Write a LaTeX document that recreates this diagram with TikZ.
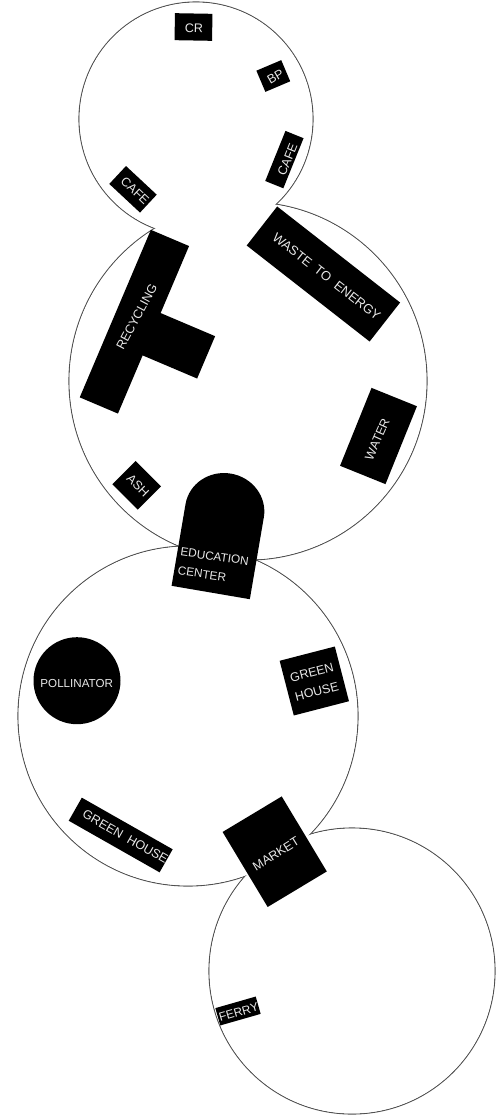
\documentclass[tikz,border=0pt]{standalone}
\usepackage{fontspec}
\setmainfont{Liberation Sans}
\definecolor{ringgray}{RGB}{80,80,80}
\definecolor{labelgray}{RGB}{232,232,232}
\usetikzlibrary{positioning}

\begin{document}
\begin{tikzpicture}[x=1pt,y=-1pt,
  bldg/.style={fill=black,inner sep=0pt},
  bldglabel/.style={text=labelgray,inner sep=0pt,align=center,font=\fontsize{12.5}{19.5}\selectfont}]
  \useasboundingbox (0,0) rectangle (499,1119);
  % site outline: rings first, then wipe the insides
  \foreach \cx/\cy/\cr in {196/119/117,248/381/179,188/716/170,352/971/143}
    \draw[ringgray,line width=1.1pt] (\cx,\cy) circle[radius=\cr pt];
  \foreach \cx/\cy/\cr in {196/119/117,248/381/179,188/716/170,352/971/143}
    \fill[white] (\cx,\cy) circle[radius=\cr pt-0.55pt];
  % top ring
  \node[bldg,minimum width=37.5pt,minimum height=27pt,rotate=-1] (cr) at (193.5,27) {};
  \node[bldglabel,rotate=-1] (crlabel) at (194,28.5) {CR};
  \node[bldg,minimum width=27pt,minimum height=23pt,rotate=23] (bp) at (273.3,76) {};
  \node[bldglabel,rotate=30] (bplabel) at (275.5,77) {BP};
  \node[bldg,minimum width=54pt,minimum height=19.5pt,rotate=68] (caferight) at (284.4,159.6) {};
  \node[bldglabel,rotate=68] (caferightlabel) at (287.5,159.3) {CAFE};
  \node[bldg,minimum width=42pt,minimum height=24.5pt,rotate=-43] (cafeleft) at (133,189.3) {};
  \node[bldglabel,rotate=-43] (cafeleftlabel) at (135,190.5) {CAFE};
  % second ring
  \node[bldg,minimum width=156pt,minimum height=49.5pt,rotate=-38] (waste) at (323.4,274) {};
  \node[bldglabel,rotate=-38,font=\fontsize{13}{15}\selectfont] (wastelabel) at (326.7,276.7) {WASTE\ \ TO\ \ ENERGY};
  \node[bldg,minimum width=182pt,minimum height=41.5pt,rotate=67] (recycling) at (134.4,321.7) {};
  \node[bldg,minimum width=75pt,minimum height=46pt,rotate=-23] (recyclingwing) at (171.6,342.7) {};
  \node[bldglabel,rotate=62] (recyclinglabel) at (136.7,316.7) {RECYCLING};
  \node[bldg,minimum width=84pt,minimum height=49pt,rotate=68] (water) at (378.5,436) {};
  \node[bldglabel,rotate=66] (waterlabel) at (377.3,439.3) {WATER};
  \node[bldg,minimum width=36pt,minimum height=33pt,rotate=-45] (ash) at (136.7,485.3) {};
  \node[bldglabel,rotate=-45] (ashlabel) at (138,486) {ASH};
  % education center has a round back
  \begin{scope}[shift={(210.7,592.5)},rotate=-9.7]
    \fill[black] (-39.7,0) -- (39.7,0) -- (39.7,-83) arc[start angle=0,end angle=180,x radius=39.7pt,y radius=37.6pt] -- cycle;
  \end{scope}
  \node[bldglabel,rotate=-8,align=left,font=\fontsize{11.8}{19}\selectfont] (education) at (213.3,566) {EDUCATION\\CENTER};
  % third ring
  \node[circle,bldg,minimum size=87pt] (pollinator) at (77,680.7) {};
  \node[bldglabel,font=\fontsize{11.6}{14}\selectfont] (pollinatorlabel) at (76.7,683.3) {POLLINATOR};
  \node[bldg,minimum width=57pt,minimum height=56.5pt,rotate=14.5] (greenright) at (314.3,681) {};
  \node[bldglabel,rotate=14.5] (greenrightlabel) at (314.3,682) {GREEN\\HOUSE};
  \node[bldg,minimum width=104.5pt,minimum height=26.5pt,rotate=-29.6] (greenlow) at (120.7,835) {};
  \node[bldglabel,rotate=-29.6] (greenlowlabel) at (125.3,836.7) {GREEN\ \ HOUSE};
  \node[bldg,minimum width=69pt,minimum height=87.5pt,rotate=31] (market) at (274.7,851.7) {};
  \node[bldglabel,rotate=32] (marketlabel) at (276,854) {MARKET};
  % bottom ring
  \node[bldg,minimum width=42pt,minimum height=18pt,rotate=16] (ferry) at (238,1011) {};
  \node[bldglabel,rotate=16,font=\fontsize{12}{14}\selectfont] (ferrylabel) at (238.7,1012.3) {FERRY};
\end{tikzpicture}
\end{document}
